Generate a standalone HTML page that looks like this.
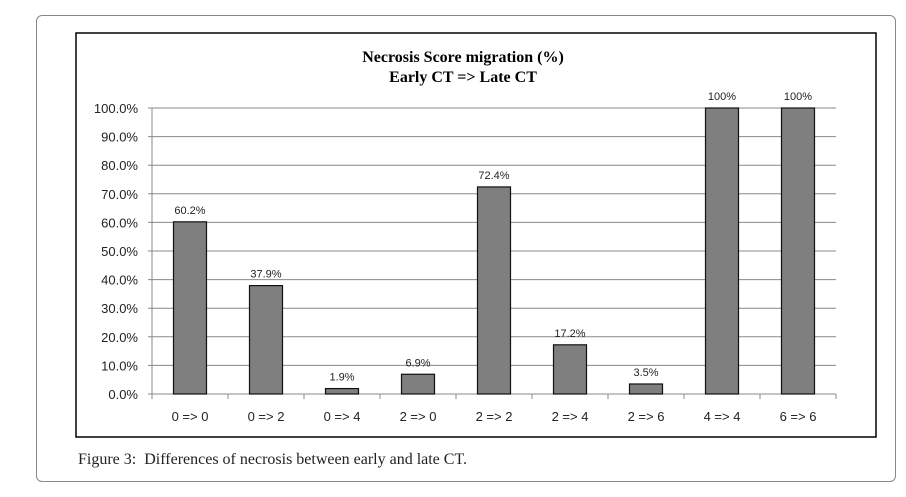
<!DOCTYPE html>
<html><head><meta charset="utf-8"><style>
body{margin:0;background:#fff;width:906px;height:497px;overflow:hidden;font-family:"Liberation Sans",sans-serif}
#outer{position:absolute;left:36px;top:15px;width:860px;height:467px;border:1px solid #888;border-radius:6px;box-sizing:border-box}
#cap{position:absolute;left:78px;top:451px;font-family:"Liberation Serif",serif;font-size:16px;color:#222}
</style></head><body>
<div id="outer"></div>
<svg id="chart" width="906" height="497" style="position:absolute;left:0;top:0">
<rect x="76" y="33" width="800" height="404" fill="#fff" stroke="#000" stroke-width="1.5"/>
<text x="463" y="62" text-anchor="middle" font-family="Liberation Serif,serif" font-weight="bold" font-size="16">Necrosis Score migration (%)</text>
<text x="463" y="82" text-anchor="middle" font-family="Liberation Serif,serif" font-weight="bold" font-size="16">Early CT =&gt; Late CT</text>
<g id="g"></g>
</svg>
<div id="cap"><b style="font-weight:normal">Figure 3:</b>&nbsp; Differences of necrosis between early and late CT.</div>
<script>
const categories=["0 => 0","0 => 2","0 => 4","2 => 0","2 => 2","2 => 4","2 => 6","4 => 4","6 => 6"];
const values=[60.2,37.9,1.9,6.9,72.4,17.2,3.5,100,100];
const valueLabels=["60.2%","37.9%","1.9%","6.9%","72.4%","17.2%","3.5%","100%","100%"];
const yTicks=[0,10,20,30,40,50,60,70,80,90,100];
const X0=152,X1=836,Y0=394,Y1=108;
const bw=(X1-X0)/categories.length;
const y=v=>Y0-(v/100)*(Y0-Y1);
const xc=i=>X0+bw*(i+0.5);
const g=document.getElementById('g');
const NS="http://www.w3.org/2000/svg";
function mk(t,a){const e=document.createElementNS(NS,t);for(const k in a)e.setAttribute(k,a[k]);g.appendChild(e);return e;}
yTicks.forEach(t=>{
 const l=mk('line',{x1:148,x2:X1,y1:y(t),y2:y(t),stroke:'#888','stroke-width':1});
 
 
 const tx=mk('text',{x:138,y:y(t)+5,'text-anchor':'end','font-size':13,fill:'#222'});
 tx.textContent=t.toFixed(1)+'%';
 
 
});
const ax=mk('line',{x1:X0,x2:X0,y1:Y1,y2:Y0,stroke:'#888'});


for(let i=0;i<=categories.length;i++){
 const tk=mk('line',{x1:X0+bw*i,x2:X0+bw*i,y1:Y0,y2:Y0+5,stroke:'#888'});
 
 
}
categories.forEach((c,i)=>{
 const b=mk('rect',{x:xc(i)-16.5,y:y(values[i]),width:33,height:Y0-y(values[i]),fill:'#7f7f7f',stroke:'#111','stroke-width':1.2});
 
 
 const v=mk('text',{x:xc(i),y:y(values[i])-8,'text-anchor':'middle','font-size':11,fill:'#222'});
 v.textContent=valueLabels[i];
 
 
 const t=mk('text',{x:xc(i),y:421,'text-anchor':'middle','font-size':13,fill:'#222'});
 t.textContent=c;
 
 
});
</script>
</body></html>
